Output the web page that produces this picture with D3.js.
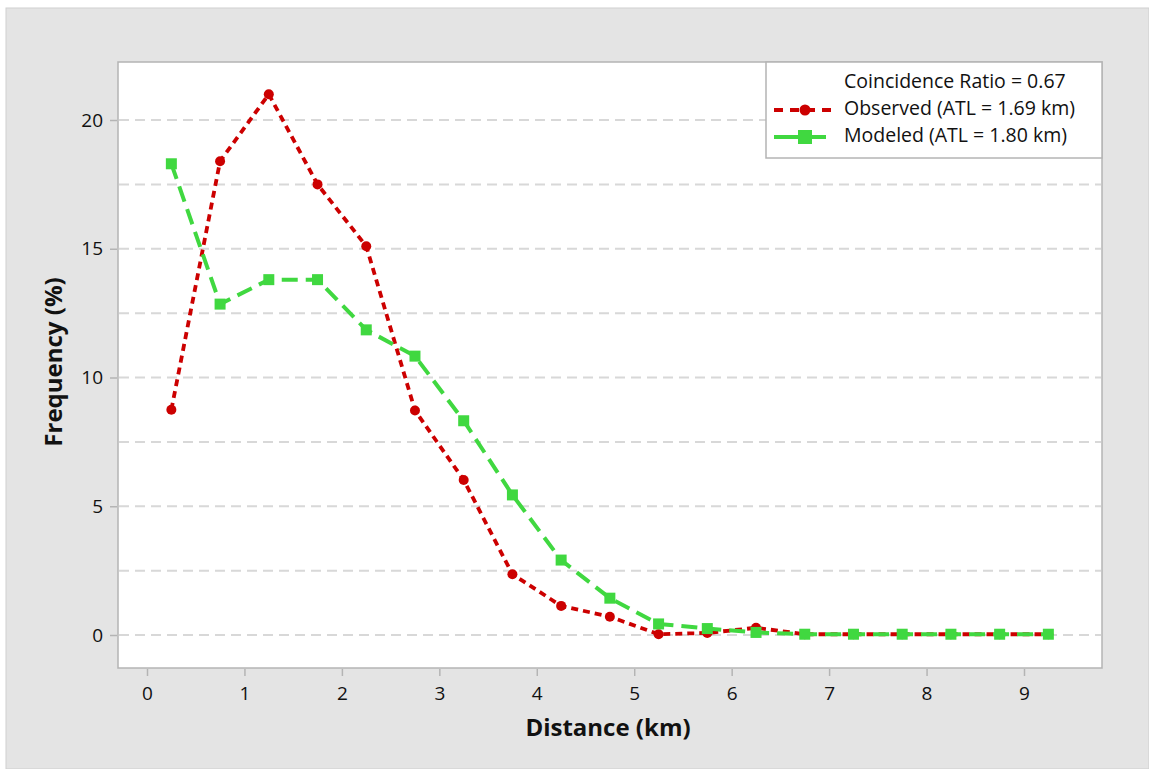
<!DOCTYPE html>
<html>
<head>
<meta charset="utf-8">
<script src="https://cdn.jsdelivr.net/npm/d3@7"></script>
<style>
  html, body { margin: 0; padding: 0; background: #ffffff; }
  svg { display: block; }
  text { font-family: "Open Sans", "Noto Sans", sans-serif; fill: #111; }
</style>
</head>
<body>
<svg id="chart" width="1149" height="769"></svg>
<script>
// Distance bins (km, bin centres)
const distance = [0.25, 0.75, 1.25, 1.75, 2.25, 2.75, 3.25, 3.75, 4.25, 4.75,
                  5.25, 5.75, 6.25, 6.75, 7.25, 7.75, 8.25, 8.75, 9.25];
// Trip-length frequency (%)
const observed = [8.75, 18.4, 21.0, 17.5, 15.1, 8.72, 6.02, 2.36, 1.13, 0.71,
                  0.03, 0.08, 0.28, 0.03, 0.03, 0.03, 0.03, 0.03, 0.03];
const modeled  = [18.3, 12.85, 13.8, 13.8, 11.85, 10.83, 8.32, 5.44, 2.91, 1.43,
                  0.43, 0.25, 0.1, 0.03, 0.03, 0.03, 0.03, 0.03, 0.03];
const xTicks = [0, 1, 2, 3, 4, 5, 6, 7, 8, 9];
const yTicks = [0, 5, 10, 15, 20];
const yGrid  = [0, 2.5, 5, 7.5, 10, 12.5, 15, 17.5, 20];
const legendLines = ["Coincidence Ratio = 0.67", "Observed (ATL = 1.69 km)", "Modeled (ATL = 1.80 km)"];

const red = "#cc0000", green = "#40d840";
const svg = d3.select("#chart");

// outer panel
svg.append("rect").attr("x", 6).attr("y", 8).attr("width", 1143).attr("height", 761)
  .attr("fill", "#e4e4e4").attr("stroke", "#cfcfcf");

const plot = { left: 118, top: 62, right: 1102, bottom: 668 };
const x = d3.scaleLinear().domain([0, 9]).range([147, 1024]);
const y = d3.scaleLinear().domain([0, 20]).range([635, 120]);

svg.append("rect").attr("x", plot.left).attr("y", plot.top)
  .attr("width", plot.right - plot.left).attr("height", plot.bottom - plot.top)
  .attr("fill", "#fff").attr("stroke", "#b4b4b4").attr("stroke-width", 1.5);

// horizontal dashed gridlines
svg.append("g").selectAll("line").data(yGrid).join("line")
  .attr("x1", plot.left + 1).attr("x2", plot.right - 1)
  .attr("y1", d => y(d)).attr("y2", d => y(d))
  .attr("stroke", "#d8d8d8").attr("stroke-width", 2).attr("stroke-dasharray", "10,6");

// axes
const xAxis = svg.append("g").attr("transform", `translate(0,${plot.bottom + 1})`)
  .call(d3.axisBottom(x).tickValues(xTicks).tickSize(7).tickPadding(8).tickFormat(d3.format("d")));
const yAxis = svg.append("g").attr("transform", `translate(${plot.left - 1},0)`)
  .call(d3.axisLeft(y).tickValues(yTicks).tickSize(7).tickPadding(6).tickFormat(d3.format("d")));
[xAxis, yAxis].forEach(a => {
  a.select(".domain").remove();
  a.selectAll(".tick line").attr("stroke", "#b4b4b4").attr("stroke-width", 1.5);
  a.selectAll(".tick text").attr("font-size", 19).attr("fill", "#111")
    .style("font-family", "'Open Sans', 'Noto Sans', sans-serif");
});
xAxis.selectAll(".tick text").attr("dy", "0.85em");
yAxis.selectAll(".tick text").attr("dx", "-1");

// axis titles
svg.append("text").attr("x", 608).attr("y", 736).attr("text-anchor", "middle")
  .attr("font-size", 24).attr("font-weight", "bold").text("Distance (km)");
svg.append("text").attr("transform", "translate(62,362) rotate(-90)").attr("text-anchor", "middle")
  .attr("font-size", 24).attr("font-weight", "bold").text("Frequency (%)");

// series: observed first, modeled drawn over it
const line = d3.line().x(d => x(d[0])).y(d => y(d[1]));
const obsData = distance.map((d, i) => [d, observed[i]]);
const modData = distance.map((d, i) => [d, modeled[i]]);

svg.append("path").datum(obsData).attr("d", line).attr("fill", "none")
  .attr("stroke", red).attr("stroke-width", 3.8).attr("stroke-dasharray", "7,5");
svg.append("g").selectAll("circle").data(obsData).join("circle")
  .attr("cx", d => x(d[0])).attr("cy", d => y(d[1])).attr("r", 5).attr("fill", red);

svg.append("path").datum(modData).attr("d", line).attr("fill", "none")
  .attr("stroke", green).attr("stroke-width", 4).attr("stroke-dasharray", "16,8");
svg.append("g").selectAll("rect").data(modData).join("rect")
  .attr("x", d => x(d[0]) - 5.5).attr("y", d => y(d[1]) - 5.5)
  .attr("width", 11).attr("height", 11).attr("fill", green);

// legend
const lg = svg.append("g");
lg.append("rect").attr("x", 766).attr("y", 62).attr("width", 336).attr("height", 96)
  .attr("fill", "#fff").attr("stroke", "#b4b4b4").attr("stroke-width", 1.5);
lg.selectAll("text").data(legendLines).join("text")
  .attr("x", 844).attr("y", (d, i) => 88 + i * 27).attr("font-size", 19.5).text(d => d);
const ly1 = 110, ly2 = 137;
lg.append("line").attr("x1", 774).attr("x2", 832).attr("y1", ly1).attr("y2", ly1)
  .attr("stroke", red).attr("stroke-width", 3.8).attr("stroke-dasharray", "9,7");
lg.append("circle").attr("cx", 805).attr("cy", ly1).attr("r", 5.5).attr("fill", red);
lg.append("line").attr("x1", 774).attr("x2", 826).attr("y1", ly2).attr("y2", ly2)
  .attr("stroke", green).attr("stroke-width", 4);
lg.append("rect").attr("x", 798).attr("y", ly2 - 7).attr("width", 14).attr("height", 14).attr("fill", green);
</script>
</body>
</html>
